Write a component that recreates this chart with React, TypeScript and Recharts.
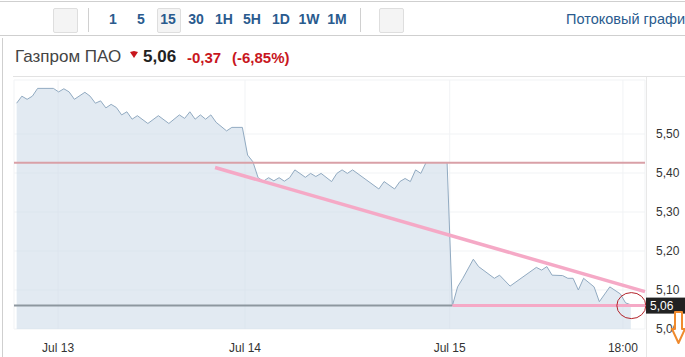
import React from 'react';
import {
  ComposedChart,
  Area,
  XAxis,
  YAxis,
  CartesianGrid,
  ReferenceLine,
  ReferenceDot
} from 'recharts';

// 15-minute bars: bar number and close price
const barIndex = [
  0, 1, 2, 3, 4, 7, 8, 9, 10, 11, 13, 14, 15, 16, 17, 18, 19, 20, 21, 22, 23,
  25, 27, 29, 31, 32, 33, 34, 35, 36, 37, 38, 40, 41, 43, 44, 45, 46, 47, 48,
  49, 50, 51, 52, 53, 55, 56, 57, 58, 60, 61, 62, 63, 64, 69, 70, 72, 73, 74,
  75, 76, 77, 78, 82, 83, 84, 85, 87, 88, 91, 92, 94, 99, 100, 101, 102, 104,
  105, 106, 107, 108, 110, 111, 113, 115, 116, 117
];
const closePrice = [
  5.579, 5.597, 5.589, 5.597, 5.617, 5.617, 5.608, 5.616, 5.608, 5.589, 5.607,
  5.597, 5.579, 5.585, 5.567, 5.576, 5.568, 5.549, 5.557, 5.538, 5.547, 5.527,
  5.547, 5.527, 5.549, 5.54, 5.557, 5.538, 5.549, 5.538, 5.549, 5.53, 5.508,
  5.517, 5.517, 5.446, 5.429, 5.388, 5.379, 5.388, 5.38, 5.388, 5.379, 5.388,
  5.408, 5.389, 5.399, 5.391, 5.399, 5.378, 5.399, 5.408, 5.399, 5.408, 5.359,
  5.378, 5.359, 5.378, 5.386, 5.378, 5.408, 5.399, 5.427, 5.427, 5.059, 5.108,
  5.13, 5.179, 5.16, 5.13, 5.138, 5.11, 5.158, 5.151, 5.16, 5.138, 5.137, 5.13,
  5.13, 5.1, 5.13, 5.108, 5.07, 5.108, 5.09, 5.067, 5.062
];

const xTicks = [7.9, 43.5, 82.5, 115.5];
const xTickLabels = ['Jul 13', 'Jul 14', 'Jul 15', '18:00'];
const priceTicks = [5.0, 5.1, 5.2, 5.3, 5.4, 5.5];
const timeframes = ['1', '5', '15', '30', '1H', '5H', '1D', '1W', '1M'];
const timeframeX = [113, 141, 168, 196, 224, 252, 281, 309, 337];

// drawn levels
const resistanceLevel = 5.426;
const supportLevel = 5.06;
const breakBar = 83;
const trendStart = { x: 37.8, y: 5.414 };
const trendEnd = { x: 119.7, y: 5.096 };
const lastPrice = 5.06;
const circledBar = 117.1;

const X_MIN = -0.5;
const X_MAX = 119.7;

const chartData = barIndex.map((t, i) => ({ t, close: closePrice[i] }));

const fmt = (v: number) => v.toFixed(2).replace('.', ',');
const RED = '#c8161d';
const BLUE = '#2a5b8e';
const FONT = "'Liberation Sans', Arial, sans-serif";

const PriceTag = (props: any) => (
  <g>
    <rect x={646} y={props.cy - 8} width={39} height={16} fill='#222' />
    <text x={650} y={props.cy + 4} fill='#fff' fontSize={12} fontFamily={FONT}>
      {fmt(lastPrice)}
    </text>
  </g>
);

const Circle = (props: any) => (
  <ellipse
    cx={props.cx}
    cy={props.cy}
    rx={14.5}
    ry={13}
    fill='none'
    stroke='#b3232a'
    strokeWidth={1}
  />
);

const App = () => {
  return (
    <div
      style={{
        position: 'relative',
        width: 685,
        height: 357,
        overflow: 'hidden',
        background: '#fff',
        fontFamily: FONT
      }}
    >
      <style>{'body{margin:0}'}</style>

      {/* toolbar */}
      <div style={{ position: 'absolute', left: 0, top: 1, width: 685, height: 1, background: '#cfcfcf' }} />
      <div style={{ position: 'absolute', left: 0, top: 35, width: 685, height: 1, background: '#cfcfcf' }} />
      <div style={{ position: 'absolute', left: 53, top: 8, width: 23, height: 23, background: '#f4f4f4', border: '1px solid #dedede', borderRadius: 2 }} />
      <div style={{ position: 'absolute', left: 88, top: 8, width: 1, height: 24, background: '#d0d0d0' }} />
      <div style={{ position: 'absolute', left: 157, top: 8, width: 22, height: 23, background: '#f4f4f4', border: '1px solid #dedede', borderRadius: 2 }} />
      {timeframes.map((tf, i) => (
        <div
          key={tf}
          style={{
            position: 'absolute',
            left: timeframeX[i] - 15,
            width: 30,
            top: 11,
            textAlign: 'center',
            fontFamily: "'Liberation Sans Narrow', 'Liberation Sans', Arial",
            fontWeight: 'bold',
            fontSize: 14,
            color: BLUE
          }}
        >
          {tf}
        </div>
      ))}
      <div style={{ position: 'absolute', left: 360, top: 8, width: 1, height: 24, background: '#d0d0d0' }} />
      <div style={{ position: 'absolute', left: 379, top: 8, width: 23, height: 23, background: '#f4f4f4', border: '1px solid #dedede', borderRadius: 2 }} />
      <div style={{ position: 'absolute', left: 566, top: 11, fontSize: 14.5, color: BLUE, whiteSpace: 'nowrap' }}>
        Потоковый график
      </div>

      {/* panel borders */}
      <div style={{ position: 'absolute', left: 2, top: 38, width: 1, height: 319, background: '#cfcfcf' }} />
      <div style={{ position: 'absolute', left: 13, top: 76, width: 672, height: 1, background: '#e2e2e2' }} />
      <div style={{ position: 'absolute', left: 646, top: 77, width: 1, height: 280, background: '#e8e8e8' }} />

      {/* title */}
      <div style={{ position: 'absolute', left: 15, top: 47, fontSize: 17, color: '#444', whiteSpace: 'nowrap' }}>
        Газпром ПАО
      </div>
      <svg style={{ position: 'absolute', left: 130, top: 51 }} width={8} height={7}>
        <path d='M0,1 L4,0 L8,1 L4,7 Z' fill={RED} />
      </svg>
      <div style={{ position: 'absolute', left: 143, top: 47, fontSize: 17, fontWeight: 'bold', color: '#222' }}>
        5,06
      </div>
      <div style={{ position: 'absolute', left: 187, top: 49, fontSize: 15, fontWeight: 'bold', color: RED }}>
        -0,37
      </div>
      <div style={{ position: 'absolute', left: 232, top: 49, fontSize: 15, fontWeight: 'bold', color: RED }}>
        (-6,85%)
      </div>

      <div style={{ position: 'absolute', left: 0, top: 0 }}>
        <ComposedChart
          width={685}
          height={357}
          data={chartData}
          margin={{ top: 80, right: 0, bottom: 0, left: 14 }}
        >
          <CartesianGrid stroke='#f1f3f5' />
          <XAxis
            dataKey='t'
            type='number'
            domain={[X_MIN, X_MAX]}
            ticks={xTicks}
            tickFormatter={(v: number) => xTickLabels[xTicks.indexOf(v)]}
            allowDataOverflow
            axisLine={false}
            tickLine={false}
            tickMargin={8}
            height={28}
            tick={{ fill: '#333', fontSize: 12, fontFamily: FONT }}
          />
          <YAxis
            orientation='right'
            type='number'
            domain={[5.0, 5.6385]}
            ticks={priceTicks}
            tickFormatter={fmt}
            allowDataOverflow
            axisLine={false}
            tickLine={false}
            tickMargin={5}
            width={40}
            tick={{ fill: '#333', fontSize: 12, fontFamily: FONT, textAnchor: 'start' }}
          />
          <Area
            type='linear'
            dataKey='close'
            stroke='#91aac1'
            strokeWidth={1}
            fill='#cfdce9'
            fillOpacity={0.6}
            isAnimationActive={false}
            dot={false}
            activeDot={false}
          />
          <ReferenceLine y={resistanceLevel} stroke='#d9a0a7' strokeWidth={2} />
          <ReferenceLine
            segment={[
              { x: X_MIN, y: supportLevel },
              { x: breakBar, y: supportLevel }
            ]}
            stroke='#8d979f'
            strokeWidth={2}
          />
          <ReferenceLine
            segment={[
              { x: breakBar, y: supportLevel },
              { x: X_MAX, y: supportLevel }
            ]}
            stroke='#f5a9c6'
            strokeWidth={3}
          />
          <ReferenceLine
            segment={[trendStart, trendEnd]}
            stroke='#f5a9c6'
            strokeWidth={3.5}
          />
          <ReferenceDot x={circledBar} y={lastPrice} shape={Circle} />
          <ReferenceDot x={X_MAX} y={lastPrice} shape={PriceTag} />
        </ComposedChart>
      </div>

      {/* orange arrow */}
      <svg style={{ position: 'absolute', left: 0, top: 0 }} width={685} height={357}>
        <path
          d='M675,312 L682,312 L682,329 L685,329 L678.5,343 L672,329 L675,329 Z'
          fill='#fff'
          stroke='#ef8a2e'
          strokeWidth={2}
          strokeLinejoin='round'
        />
      </svg>
    </div>
  );
};

export default App;
